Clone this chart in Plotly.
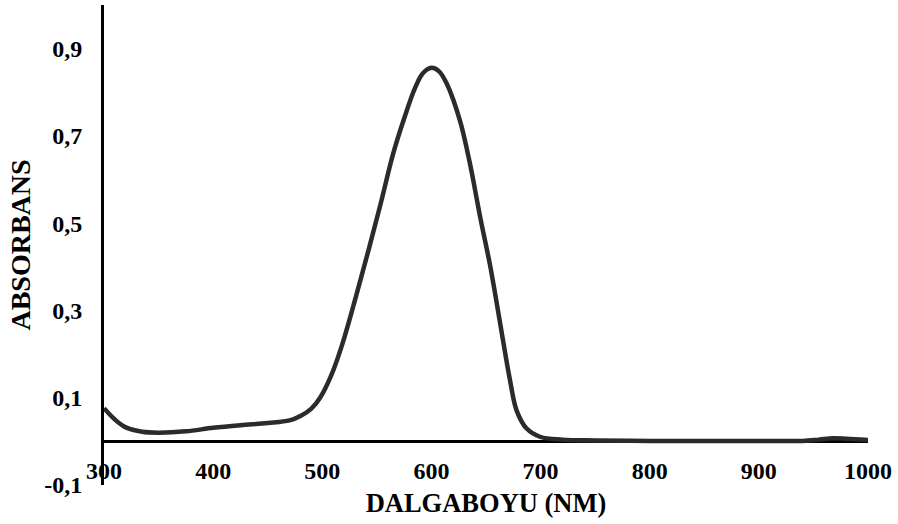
import plotly.graph_objects as go

wavelength = [300, 310, 320, 335, 350, 375, 400, 425, 450, 470, 480, 490, 498, 508, 518, 535,
              553, 565, 575, 585, 592, 600, 607, 614, 626, 635, 645, 654, 663, 672, 678, 687,
              700, 720, 750, 800, 850, 900, 940, 955, 968, 980, 1000]
absorbance = [0.076, 0.05, 0.032, 0.022, 0.02, 0.023, 0.031, 0.037, 0.042, 0.048, 0.058, 0.075,
              0.10, 0.15, 0.22, 0.37, 0.54, 0.66, 0.74, 0.81, 0.843, 0.856, 0.848, 0.82, 0.736,
              0.64, 0.51, 0.40, 0.27, 0.14, 0.071, 0.03, 0.01, 0.004, 0.002, 0.001, 0.001, 0.001,
              0.001, 0.004, 0.007, 0.006, 0.003]

x_ticks = [300, 400, 500, 600, 700, 800, 900, 1000]
y_ticks = [-0.1, 0.1, 0.3, 0.5, 0.7, 0.9]
y_ticktext = ["-0,1", "0,1", "0,3", "0,5", "0,7", "0,9"]

FONT = "Liberation Serif"

fig = go.Figure()
fig.add_trace(go.Scatter(
    x=wavelength, y=absorbance, mode="lines",
    line=dict(color="#2b2b2b", width=4.5, shape="spline", smoothing=1.0),
    showlegend=False, hoverinfo="skip",
))

fig.update_layout(
    width=898, height=524,
    margin=dict(l=104, r=30, t=5, b=39),
    paper_bgcolor="white", plot_bgcolor="white",
    font=dict(family=FONT, color="black"),
    xaxis=dict(
        range=[300, 1000], tickvals=x_ticks, ticktext=[str(v) for v in x_ticks],
        showgrid=False, zeroline=False, showline=False, ticks="",
        anchor="free", position=0.064, automargin=False,
        tickfont=dict(family=FONT, size=24, color="black", weight="bold"),
        title=dict(text="<b>DALGABOYU (NM)</b>", font=dict(family=FONT, size=26.5, color="black"),
                   standoff=10),
    ),
    yaxis=dict(
        range=[-0.1, 1.0], tickvals=y_ticks, ticktext=y_ticktext,
        showgrid=False, zeroline=True, zerolinecolor="black", zerolinewidth=3,
        showline=True, linecolor="black", linewidth=3, ticks="",
        ticklabelstandoff=14, automargin=False,
        tickfont=dict(family=FONT, size=24, color="black", weight="bold"),
        title=dict(text="<b>ABSORBANS</b>", font=dict(family=FONT, size=28, color="black"),
                   standoff=6),
    ),
)

fig.write_html("out.html", config={"displayModeBar": False},
               post_script="document.body.style.margin='0px';")
